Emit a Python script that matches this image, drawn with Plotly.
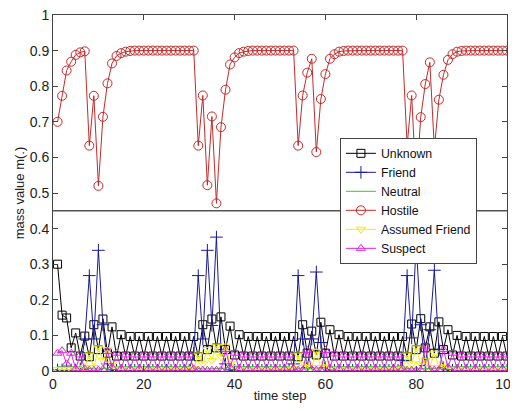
import plotly.graph_objects as go

time_step = list(range(1, 101))

unknown = [
    0.300, 0.157, 0.149, 0.065, 0.107, 0.042, 0.098, 0.040, 0.130, 0.060,
    0.146, 0.050, 0.124, 0.042, 0.102, 0.042, 0.097, 0.042, 0.097, 0.042,
    0.097, 0.042, 0.097, 0.042, 0.097, 0.042, 0.097, 0.042, 0.097, 0.042,
    0.097, 0.040, 0.130, 0.060, 0.146, 0.065, 0.152, 0.060, 0.126, 0.045,
    0.102, 0.042, 0.097, 0.042, 0.097, 0.042, 0.097, 0.042, 0.097, 0.042,
    0.097, 0.042, 0.097, 0.040, 0.130, 0.050, 0.112, 0.045, 0.137, 0.050,
    0.116, 0.042, 0.102, 0.042, 0.097, 0.042, 0.097, 0.042, 0.097, 0.042,
    0.097, 0.042, 0.097, 0.042, 0.097, 0.042, 0.097, 0.040, 0.132, 0.060,
    0.147, 0.065, 0.124, 0.050, 0.138, 0.060, 0.116, 0.045, 0.100, 0.042,
    0.097, 0.042, 0.097, 0.042, 0.097, 0.042, 0.097, 0.042, 0.097, 0.042,
]

friend = [
    0.003, 0.003, 0.003, 0.003, 0.003, 0.005, 0.090, 0.268, 0.090, 0.339,
    0.130, 0.020, 0.003, 0.002, 0.002, 0.002, 0.002, 0.002, 0.002, 0.002,
    0.002, 0.002, 0.002, 0.002, 0.002, 0.002, 0.002, 0.002, 0.002, 0.002,
    0.050, 0.268, 0.090, 0.339, 0.128, 0.376, 0.060, 0.020, 0.003, 0.002,
    0.002, 0.002, 0.002, 0.002, 0.002, 0.002, 0.002, 0.002, 0.002, 0.002,
    0.002, 0.002, 0.020, 0.268, 0.090, 0.010, 0.090, 0.278, 0.080, 0.010,
    0.002, 0.002, 0.002, 0.002, 0.002, 0.002, 0.002, 0.002, 0.002, 0.002,
    0.002, 0.002, 0.002, 0.002, 0.002, 0.002, 0.030, 0.268, 0.093, 0.360,
    0.130, 0.015, 0.116, 0.283, 0.060, 0.010, 0.003, 0.002, 0.002, 0.002,
    0.002, 0.002, 0.002, 0.002, 0.002, 0.002, 0.002, 0.002, 0.002, 0.002,
]

neutral = [
    0.012, 0.012, 0.012, 0.012, 0.012, 0.012, 0.008, 0.006, 0.006, 0.006,
    0.006, 0.008, 0.012, 0.012, 0.012, 0.012, 0.012, 0.012, 0.012, 0.012,
    0.012, 0.012, 0.012, 0.012, 0.012, 0.012, 0.012, 0.012, 0.012, 0.012,
    0.008, 0.006, 0.006, 0.006, 0.006, 0.006, 0.006, 0.008, 0.012, 0.012,
    0.012, 0.012, 0.012, 0.012, 0.012, 0.012, 0.012, 0.012, 0.012, 0.012,
    0.012, 0.012, 0.008, 0.006, 0.006, 0.008, 0.008, 0.006, 0.006, 0.008,
    0.012, 0.012, 0.012, 0.012, 0.012, 0.012, 0.012, 0.012, 0.012, 0.012,
    0.012, 0.012, 0.012, 0.012, 0.012, 0.012, 0.008, 0.006, 0.006, 0.006,
    0.006, 0.008, 0.006, 0.006, 0.008, 0.008, 0.012, 0.012, 0.012, 0.012,
    0.012, 0.012, 0.012, 0.012, 0.012, 0.012, 0.012, 0.012, 0.012, 0.012,
]

hostile = [
    0.700, 0.773, 0.844, 0.869, 0.888, 0.895, 0.898, 0.633, 0.773, 0.520,
    0.714, 0.808, 0.864, 0.885, 0.893, 0.897, 0.899, 0.900, 0.900, 0.900,
    0.900, 0.900, 0.900, 0.900, 0.900, 0.900, 0.900, 0.900, 0.900, 0.900,
    0.900, 0.633, 0.774, 0.522, 0.715, 0.471, 0.685, 0.790, 0.861, 0.881,
    0.893, 0.897, 0.899, 0.900, 0.900, 0.900, 0.900, 0.900, 0.900, 0.900,
    0.900, 0.900, 0.900, 0.633, 0.774, 0.838, 0.877, 0.615, 0.764, 0.834,
    0.877, 0.890, 0.897, 0.899, 0.900, 0.900, 0.900, 0.900, 0.900, 0.900,
    0.900, 0.900, 0.900, 0.900, 0.900, 0.900, 0.900, 0.633, 0.774, 0.520,
    0.713, 0.806, 0.867, 0.625, 0.762, 0.832, 0.874, 0.890, 0.897, 0.899,
    0.900, 0.900, 0.900, 0.900, 0.900, 0.900, 0.900, 0.900, 0.900, 0.900,
]

assumed_friend = [
    0.004, 0.004, 0.004, 0.004, 0.004, 0.004, 0.010, 0.045, 0.010, 0.065,
    0.030, 0.060, 0.020, 0.005, 0.004, 0.004, 0.004, 0.004, 0.004, 0.004,
    0.004, 0.004, 0.004, 0.004, 0.004, 0.004, 0.004, 0.004, 0.004, 0.004,
    0.006, 0.045, 0.020, 0.060, 0.030, 0.070, 0.040, 0.070, 0.020, 0.010,
    0.004, 0.004, 0.004, 0.004, 0.004, 0.004, 0.004, 0.004, 0.004, 0.004,
    0.004, 0.004, 0.006, 0.045, 0.010, 0.020, 0.010, 0.055, 0.010, 0.020,
    0.005, 0.004, 0.004, 0.004, 0.004, 0.004, 0.004, 0.004, 0.004, 0.004,
    0.004, 0.004, 0.004, 0.004, 0.004, 0.004, 0.006, 0.045, 0.020, 0.065,
    0.020, 0.030, 0.010, 0.050, 0.010, 0.020, 0.005, 0.004, 0.004, 0.004,
    0.004, 0.004, 0.004, 0.004, 0.004, 0.004, 0.004, 0.004, 0.004, 0.004,
]

suspect = [
    0.050, 0.057, 0.020, 0.050, 0.006, 0.045, 0.006, 0.002, 0.002, 0.002,
    0.005, 0.055, 0.010, 0.050, 0.006, 0.045, 0.006, 0.045, 0.006, 0.045,
    0.006, 0.045, 0.006, 0.045, 0.006, 0.045, 0.006, 0.045, 0.006, 0.045,
    0.006, 0.002, 0.002, 0.002, 0.002, 0.002, 0.002, 0.060, 0.010, 0.050,
    0.006, 0.045, 0.006, 0.045, 0.006, 0.045, 0.006, 0.045, 0.006, 0.045,
    0.006, 0.045, 0.006, 0.002, 0.002, 0.058, 0.004, 0.002, 0.002, 0.058,
    0.008, 0.048, 0.006, 0.045, 0.006, 0.045, 0.006, 0.045, 0.006, 0.045,
    0.006, 0.045, 0.006, 0.045, 0.006, 0.045, 0.006, 0.002, 0.002, 0.002,
    0.002, 0.070, 0.003, 0.002, 0.002, 0.060, 0.010, 0.050, 0.006, 0.045,
    0.006, 0.045, 0.006, 0.045, 0.006, 0.045, 0.006, 0.045, 0.006, 0.045,
]

x_ticks = [0, 20, 40, 60, 80, 100]
y_ticks = [0, 0.1, 0.2, 0.3, 0.4, 0.5, 0.6, 0.7, 0.8, 0.9, 1]
y_tick_text = ["0", "0.1", "0.2", "0.3", "0.4", "0.5", "0.6", "0.7", "0.8", "0.9", "1"]
divider_level = 0.45

series = [
    ("Unknown", unknown, "#000000", "square-open", 8),
    ("Friend", friend, "#1a1a9a", "cross-thin-open", 9),
    ("Neutral", neutral, "#33cc33", None, 0),
    ("Hostile", hostile, "#c42a2a", "circle-open", 9),
    ("Assumed Friend", assumed_friend, "#eeee00", "triangle-down-open", 8),
    ("Suspect", suspect, "#dd22dd", "triangle-up-open", 8),
]

fig = go.Figure()
for name, vals, color, symbol, size in series:
    if symbol is None:
        fig.add_trace(go.Scatter(x=time_step, y=vals, name=name, mode="lines",
                                 line=dict(color=color, width=1)))
    else:
        fig.add_trace(go.Scatter(
            x=time_step, y=vals, name=name, mode="lines+markers",
            line=dict(color=color, width=1),
            marker=dict(symbol=symbol, size=size, color=color,
                        line=dict(color=color, width=1))))

fig.add_shape(type="line", xref="paper", x0=0, x1=1, yref="y",
              y0=divider_level, y1=divider_level,
              line=dict(color="#555555", width=1.5))

axis_font = dict(family="Liberation Sans, Arial, sans-serif", size=14, color="#222222")

# page body has an 8px margin, so the figure is sized to fit the remaining viewport
fig.update_layout(
    width=510, height=395, autosize=False,
    margin=dict(l=45, r=11, t=7, b=32, pad=0, autoexpand=False),
    paper_bgcolor="white", plot_bgcolor="white",
    font=dict(family="Liberation Sans, Arial, sans-serif", size=13, color="#222222"),
    showlegend=True,
    legend=dict(x=0.632, y=0.655, xanchor="left", yanchor="top",
                bgcolor="white", bordercolor="#444444", borderwidth=1,
                font=dict(size=12.3, color="#111111"), tracegroupgap=0, itemwidth=30),
    xaxis=dict(range=[0, 100], tickvals=x_ticks, ticks="inside", ticklen=5,
               showline=True, linecolor="#444444", linewidth=1, mirror="ticks",
               showgrid=False, zeroline=False, tickfont=axis_font, automargin=False,
               ticklabeloverflow="allow",
               title=dict(text="time step", font=dict(size=13), standoff=2)),
    yaxis=dict(range=[0, 1], tickvals=y_ticks, ticktext=y_tick_text,
               ticks="inside", ticklen=5,
               showline=True, linecolor="#444444", linewidth=1, mirror="ticks",
               showgrid=False, zeroline=False, tickfont=axis_font, automargin=False,
               ticklabeloverflow="allow",
               title=dict(text="mass value m(.)", font=dict(size=13), standoff=2)),
)

fig.write_html("out.html")
